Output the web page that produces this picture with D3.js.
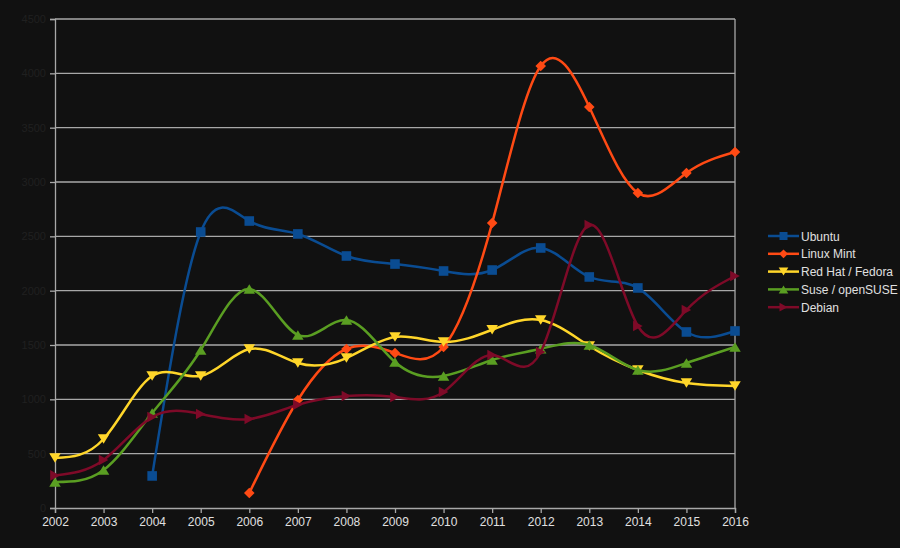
<!DOCTYPE html>
<html>
<head>
<meta charset="utf-8">
<script src="https://cdn.jsdelivr.net/npm/d3@7"></script>
<style>
  html, body { margin: 0; padding: 0; background: #111111; }
  svg { display: block; font-family: "Liberation Sans", Arial, sans-serif; }
</style>
</head>
<body>
<div id="graf"></div>
<script>
// datos
years = [2002, 2003, 2004, 2005, 2006, 2007, 2008, 2009, 2010, 2011, 2012, 2013, 2014, 2015, 2016]
yTicks = [0, 500, 1000, 1500, 2000, 2500, 3000, 3500, 4000, 4500]
seriesNames = ['Ubuntu', 'Linux Mint', 'Red Hat / Fedora', 'Suse / openSUSE', 'Debian']

ubuntu = [null, null, 295, 2540, 2641, 2522, 2319, 2245, 2181, 2190, 2393, 2126, 2025, 1620, 1629]
linuxMint = [null, null, null, null, 138, 994, 1463, 1427, 1482, 2622, 4068, 3690, 2899, 3083, 3276]
redHat = [460, 635, 1215, 1215, 1463, 1334, 1380, 1574, 1528, 1640, 1730, 1491, 1270, 1150, 1123]
suse = [239, 350, 874, 1454, 2015, 1592, 1730, 1344, 1215, 1362, 1465, 1500, 1270, 1334, 1482]
debian = [300, 442, 837, 865, 819, 950, 1031, 1022, 1068, 1408, 1436, 2604, 1675, 1822, 2135]

colores = ['#0a4c92', '#ff4a14', '#ffd62a', '#5a9e22', '#7e0a28']
simbolos = ['square', 'diamond', 'down', 'up', 'right']
valores = [ubuntu, linuxMint, redHat, suse, debian]

ancho_total = 900
alto_total = 548
margen = { superior: 19, izquierdo: 55, derecho: 165, inferior: 40 }
ancho = ancho_total - margen.izquierdo - margen.derecho
alto = alto_total - margen.superior - margen.inferior

svg = d3.select('#graf').append('svg')
        .attr('width', ancho_total)
        .attr('height', alto_total)

svg.append('rect')
   .attr('width', ancho_total)
   .attr('height', alto_total)
   .attr('fill', '#111111')

g = svg.append('g')
       .attr('transform', `translate(${margen.izquierdo}, ${margen.superior})`)

x = d3.scaleLinear().domain([2002, 2016]).range([0, ancho])
y = d3.scaleLinear().domain([0, 4500]).range([alto, 0])

// rejilla horizontal
g.selectAll('.grid')
 .data(yTicks.slice(1))
 .enter().append('line')
 .attr('x1', 0).attr('x2', ancho)
 .attr('y1', d => y(d)).attr('y2', d => y(d))
 .attr('stroke', '#a8a8a8')
 .attr('stroke-width', 1.3)

// borde derecho
g.append('line')
 .attr('x1', ancho).attr('x2', ancho)
 .attr('y1', 0).attr('y2', alto)
 .attr('stroke', '#a8a8a8')
 .attr('stroke-width', 1.3)

// eje Y (etiquetas casi invisibles como en el original)
yAxisCall = d3.axisLeft(y).tickValues(yTicks).tickFormat(d3.format('d')).tickSize(5).tickPadding(4)
yAxisGroup = g.append('g').call(yAxisCall)
yAxisGroup.select('.domain').attr('stroke', '#a8a8a8').attr('stroke-width', 1.3)
yAxisGroup.selectAll('.tick line').attr('stroke', '#a8a8a8').attr('stroke-width', 1.3)
yAxisGroup.selectAll('text')
          .attr('fill', '#202020')
          .style('font-size', '11px')

// eje X
xAxisCall = d3.axisBottom(x).tickValues(years).tickFormat(d3.format('d')).tickSize(5).tickPadding(4)
xAxisGroup = g.append('g')
              .attr('transform', `translate(0, ${alto})`)
              .call(xAxisCall)
xAxisGroup.select('.domain').attr('stroke', '#a8a8a8').attr('stroke-width', 1.3)
xAxisGroup.selectAll('.tick line').attr('stroke', '#a8a8a8').attr('stroke-width', 1.3)
xAxisGroup.selectAll('text')
          .attr('fill', '#e0e0e0')
          .style('font-size', '12px')

// simbolos de cada serie
function simbolo(tipo, s) {
  if (tipo == 'square') return `M${-s},${-s}H${s}V${s}H${-s}Z`
  if (tipo == 'diamond') return `M0,${-s * 1.1}L${s * 1.1},0L0,${s * 1.1}L${-s * 1.1},0Z`
  if (tipo == 'down') return `M${-s * 1.2},${-s}H${s * 1.2}L0,${s}Z`
  if (tipo == 'up') return `M${-s * 1.2},${s}H${s * 1.2}L0,${-s}Z`
  return `M${-s},${-s * 1.1}L${s},0L${-s},${s * 1.1}Z`
}

linea = d3.line()
          .defined(d => d.v != null)
          .x(d => x(d.year))
          .y(d => y(d.v))
          .curve(d3.curveNatural)

seriesNames.forEach((nombre, i) => {
  puntos = years.map((yr, j) => ({ year: yr, v: valores[i][j] })).filter(d => d.v != null)
  g.append('path')
   .datum(puntos)
   .attr('d', linea)
   .attr('fill', 'none')
   .attr('stroke', colores[i])
   .attr('stroke-width', 2.5)
  g.selectAll('.m' + i)
   .data(puntos)
   .enter().append('path')
   .attr('transform', d => `translate(${x(d.year)}, ${y(d.v)})`)
   .attr('d', simbolo(simbolos[i], 4.8))
   .attr('fill', colores[i])
})

// leyenda
leyenda = svg.append('g').attr('transform', 'translate(768, 236)')
seriesNames.forEach((nombre, i) => {
  fila = leyenda.append('g').attr('transform', `translate(0, ${i * 17.8})`)
  fila.append('line')
      .attr('x1', 0).attr('x2', 31)
      .attr('stroke', colores[i])
      .attr('stroke-width', 2.5)
  fila.append('path')
      .attr('transform', 'translate(15.5, 0)')
      .attr('d', simbolo(simbolos[i], 4))
      .attr('fill', colores[i])
  fila.append('text')
      .attr('x', 33)
      .attr('y', 4.5)
      .attr('fill', '#e0e0e0')
      .style('font-size', '12px')
      .text(nombre)
})
</script>
</body>
</html>
